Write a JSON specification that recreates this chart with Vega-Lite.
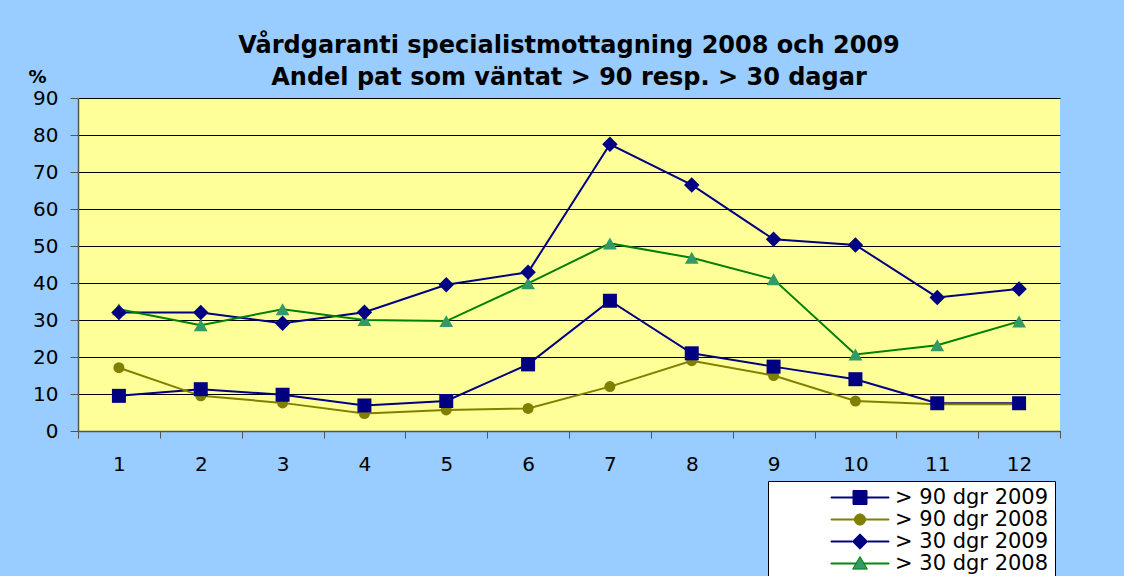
{
  "$schema": "https://vega.github.io/schema/vega-lite/v6.json",
  "autosize": {"type": "none"},
  "padding": {"left": 78, "top": 98, "right": 64, "bottom": 145},
  "width": 982,
  "height": 333,
  "background": "#99CCFF",
  "title": {
    "text": ["Vårdgaranti specialistmottagning 2008 och 2009", "Andel pat som väntat > 90 resp. > 30 dagar"],
    "font": "DejaVu Sans",
    "fontSize": 24,
    "fontWeight": "bold",
    "color": "#000000",
    "lineHeight": 32,
    "offset": -22,
    "anchor": "middle"
  },
  "data": {
    "values": [
      {"m": 1, "s": "> 90 dgr 2009", "v": 9.5},
      {"m": 2, "s": "> 90 dgr 2009", "v": 11.3},
      {"m": 3, "s": "> 90 dgr 2009", "v": 9.8},
      {"m": 4, "s": "> 90 dgr 2009", "v": 6.9},
      {"m": 5, "s": "> 90 dgr 2009", "v": 8.1},
      {"m": 6, "s": "> 90 dgr 2009", "v": 18},
      {"m": 7, "s": "> 90 dgr 2009", "v": 35.2},
      {"m": 8, "s": "> 90 dgr 2009", "v": 21},
      {"m": 9, "s": "> 90 dgr 2009", "v": 17.4},
      {"m": 10, "s": "> 90 dgr 2009", "v": 14},
      {"m": 11, "s": "> 90 dgr 2009", "v": 7.5},
      {"m": 12, "s": "> 90 dgr 2009", "v": 7.5},
      {"m": 1, "s": "> 90 dgr 2008", "v": 17.1},
      {"m": 2, "s": "> 90 dgr 2008", "v": 9.5},
      {"m": 3, "s": "> 90 dgr 2008", "v": 7.6},
      {"m": 4, "s": "> 90 dgr 2008", "v": 4.7},
      {"m": 5, "s": "> 90 dgr 2008", "v": 5.7},
      {"m": 6, "s": "> 90 dgr 2008", "v": 6.1},
      {"m": 7, "s": "> 90 dgr 2008", "v": 12},
      {"m": 8, "s": "> 90 dgr 2008", "v": 19},
      {"m": 9, "s": "> 90 dgr 2008", "v": 15},
      {"m": 10, "s": "> 90 dgr 2008", "v": 8.1},
      {"m": 11, "s": "> 90 dgr 2008", "v": 7.2},
      {"m": 12, "s": "> 90 dgr 2008", "v": 7.2},
      {"m": 1, "s": "> 30 dgr 2009", "v": 32},
      {"m": 2, "s": "> 30 dgr 2009", "v": 32},
      {"m": 3, "s": "> 30 dgr 2009", "v": 29.1},
      {"m": 4, "s": "> 30 dgr 2009", "v": 32.1},
      {"m": 5, "s": "> 30 dgr 2009", "v": 39.5},
      {"m": 6, "s": "> 30 dgr 2009", "v": 42.9},
      {"m": 7, "s": "> 30 dgr 2009", "v": 77.5},
      {"m": 8, "s": "> 30 dgr 2009", "v": 66.5},
      {"m": 9, "s": "> 30 dgr 2009", "v": 51.8},
      {"m": 10, "s": "> 30 dgr 2009", "v": 50.3},
      {"m": 11, "s": "> 30 dgr 2009", "v": 36.1},
      {"m": 12, "s": "> 30 dgr 2009", "v": 38.4},
      {"m": 1, "s": "> 30 dgr 2008", "v": 32.9},
      {"m": 2, "s": "> 30 dgr 2008", "v": 28.6},
      {"m": 3, "s": "> 30 dgr 2008", "v": 32.9},
      {"m": 4, "s": "> 30 dgr 2008", "v": 30},
      {"m": 5, "s": "> 30 dgr 2008", "v": 29.7},
      {"m": 6, "s": "> 30 dgr 2008", "v": 39.9},
      {"m": 7, "s": "> 30 dgr 2008", "v": 50.7},
      {"m": 8, "s": "> 30 dgr 2008", "v": 46.8},
      {"m": 9, "s": "> 30 dgr 2008", "v": 41},
      {"m": 10, "s": "> 30 dgr 2008", "v": 20.7},
      {"m": 11, "s": "> 30 dgr 2008", "v": 23.2},
      {"m": 12, "s": "> 30 dgr 2008", "v": 29.6}
    ]
  },
  "encoding": {
    "x": {
      "field": "m",
      "type": "ordinal",
      "sort": "ascending",
      "title": null,
      "scale": {"type": "band", "paddingInner": 0, "paddingOuter": 0},
      "axis": {
        "labelAngle": 0,
        "labelFont": "DejaVu Sans",
        "labelFontSize": 20,
        "labelColor": "#000000",
        "labelPadding": 16,
        "tickBand": "extent",
        "tickSize": 7,
        "tickColor": "#555555",
        "domainColor": "#555555",
        "domainWidth": 1.5,
        "grid": false
      }
    },
    "y": {
      "field": "v",
      "type": "quantitative",
      "scale": {"domain": [0, 90], "nice": false},
      "axis": {
        "values": [0, 10, 20, 30, 40, 50, 60, 70, 80, 90],
        "title": "%",
        "titleAngle": 0,
        "titleX": -41,
        "titleY": -16,
        "titleAlign": "center",
        "titleBaseline": "alphabetic",
        "titleFont": "DejaVu Sans",
        "titleFontSize": 18,
        "titleFontWeight": "bold",
        "titleColor": "#000000",
        "labelFont": "DejaVu Sans",
        "labelFontSize": 20,
        "labelColor": "#000000",
        "labelPadding": 12,
        "tickSize": 8,
        "tickColor": "#555555",
        "domainColor": "#555555",
        "domainWidth": 1.5,
        "grid": true,
        "gridColor": "#000000",
        "gridWidth": 1
      }
    }
  },
  "layer": [
    {
      "mark": {"type": "line", "strokeWidth": 2},
      "encoding": {
        "color": {
          "field": "s",
          "type": "nominal",
          "legend": null,
          "scale": {
            "range": ["#008000", "#000080", "#808000", "#000080"]
          }
        }
      }
    },
    {
      "transform": [{"filter": {"field": "s", "equal": "> 90 dgr 2008"}}],
      "mark": {"type": "point", "shape": "circle", "filled": true, "color": "#808000", "opacity": 1, "size": 121}
    },
    {
      "transform": [{"filter": {"field": "s", "equal": "> 30 dgr 2008"}}],
      "mark": {"type": "point", "shape": "triangle-up", "filled": true, "color": "#339966", "opacity": 1, "size": 190}
    },
    {
      "transform": [{"filter": {"field": "s", "equal": "> 90 dgr 2009"}}],
      "mark": {"type": "point", "shape": "square", "filled": true, "color": "#000080", "opacity": 1, "size": 196}
    },
    {
      "transform": [{"filter": {"field": "s", "equal": "> 30 dgr 2009"}}],
      "mark": {"type": "point", "shape": "diamond", "filled": true, "color": "#000080", "opacity": 1, "size": 240}
    },
    {
      "transform": [{"filter": {"field": "v", "lt": -100}}],
      "mark": {"type": "point", "filled": true, "opacity": 1},
      "encoding": {
        "shape": {
          "field": "s",
          "type": "nominal",
          "title": null,
          "scale": {
            "domain": ["> 90 dgr 2009", "> 90 dgr 2008", "> 30 dgr 2009", "> 30 dgr 2008"],
            "range": [
              "M-4.14,-0.07L-1,-0.07L-1,0.07L-4.14,0.07Z M1,-0.07L4.14,-0.07L4.14,0.07L1,0.07Z M-1,-1L1,-1L1,1L-1,1Z",
              "M-4.14,-0.07L-0.8,-0.07L-0.8,0.07L-4.14,0.07Z M0.8,-0.07L4.14,-0.07L4.14,0.07L0.8,0.07Z M0.8,0A0.8,0.8,0,1,1,-0.8,0A0.8,0.8,0,1,1,0.8,0Z",
              "M-4.14,-0.07L-1.1,-0.07L-1.1,0.07L-4.14,0.07Z M1.1,-0.07L4.14,-0.07L4.14,0.07L1.1,0.07Z M0,-1.1L1.1,0L0,1.1L-1.1,0Z",
              "M-4.14,-0.07L-0.58,-0.07L-0.58,0.07L-4.14,0.07Z M0.58,-0.07L4.14,-0.07L4.14,0.07L0.58,0.07Z M0,-1L1.05,0.8L-1.05,0.8Z"
            ]
          },
          "legend": {
            "title": null,
            "orient": "none",
            "legendX": 690,
            "legendY": 383,
            "labelExpr": "datum.label + '\u00a0\u00a0\u00a0\u00a0\u00a0\u00a0\u00a0\u00a0\u00a0'"
          }
        },
        "fill": {
          "field": "s",
          "type": "nominal",
          "title": null,
          "scale": {
            "domain": ["> 90 dgr 2009", "> 90 dgr 2008", "> 30 dgr 2009", "> 30 dgr 2008"],
            "range": ["#000080", "#808000", "#000080", "#339966"]
          }
        },
        "stroke": {
          "field": "s",
          "type": "nominal",
          "title": null,
          "scale": {
            "domain": ["> 90 dgr 2009", "> 90 dgr 2008", "> 30 dgr 2009", "> 30 dgr 2008"],
            "range": ["#000080", "#808000", "#000080", "#008000"]
          }
        }
      }
    }
  ],
  "config": {
    "view": {"fill": "#FFFF99", "stroke": null},
    "legend": {
      "orient": "none",
      "legendX": 690,
      "legendY": 383,
      "fillColor": "#FFFFFF",
      "strokeColor": "#000000",
      "strokeWidth": 1,
      "padding": 6,
      "symbolSize": 196,
      "symbolOffset": 75.5,
      "symbolStrokeWidth": 1,
      "symbolOpacity": 1,
      "labelOffset": 24.5,
      "labelFont": "DejaVu Sans",
      "labelFontSize": 21,
      "labelColor": "#000000",
      "labelLimit": 0,
      "rowPadding": 0
    }
  }
}
